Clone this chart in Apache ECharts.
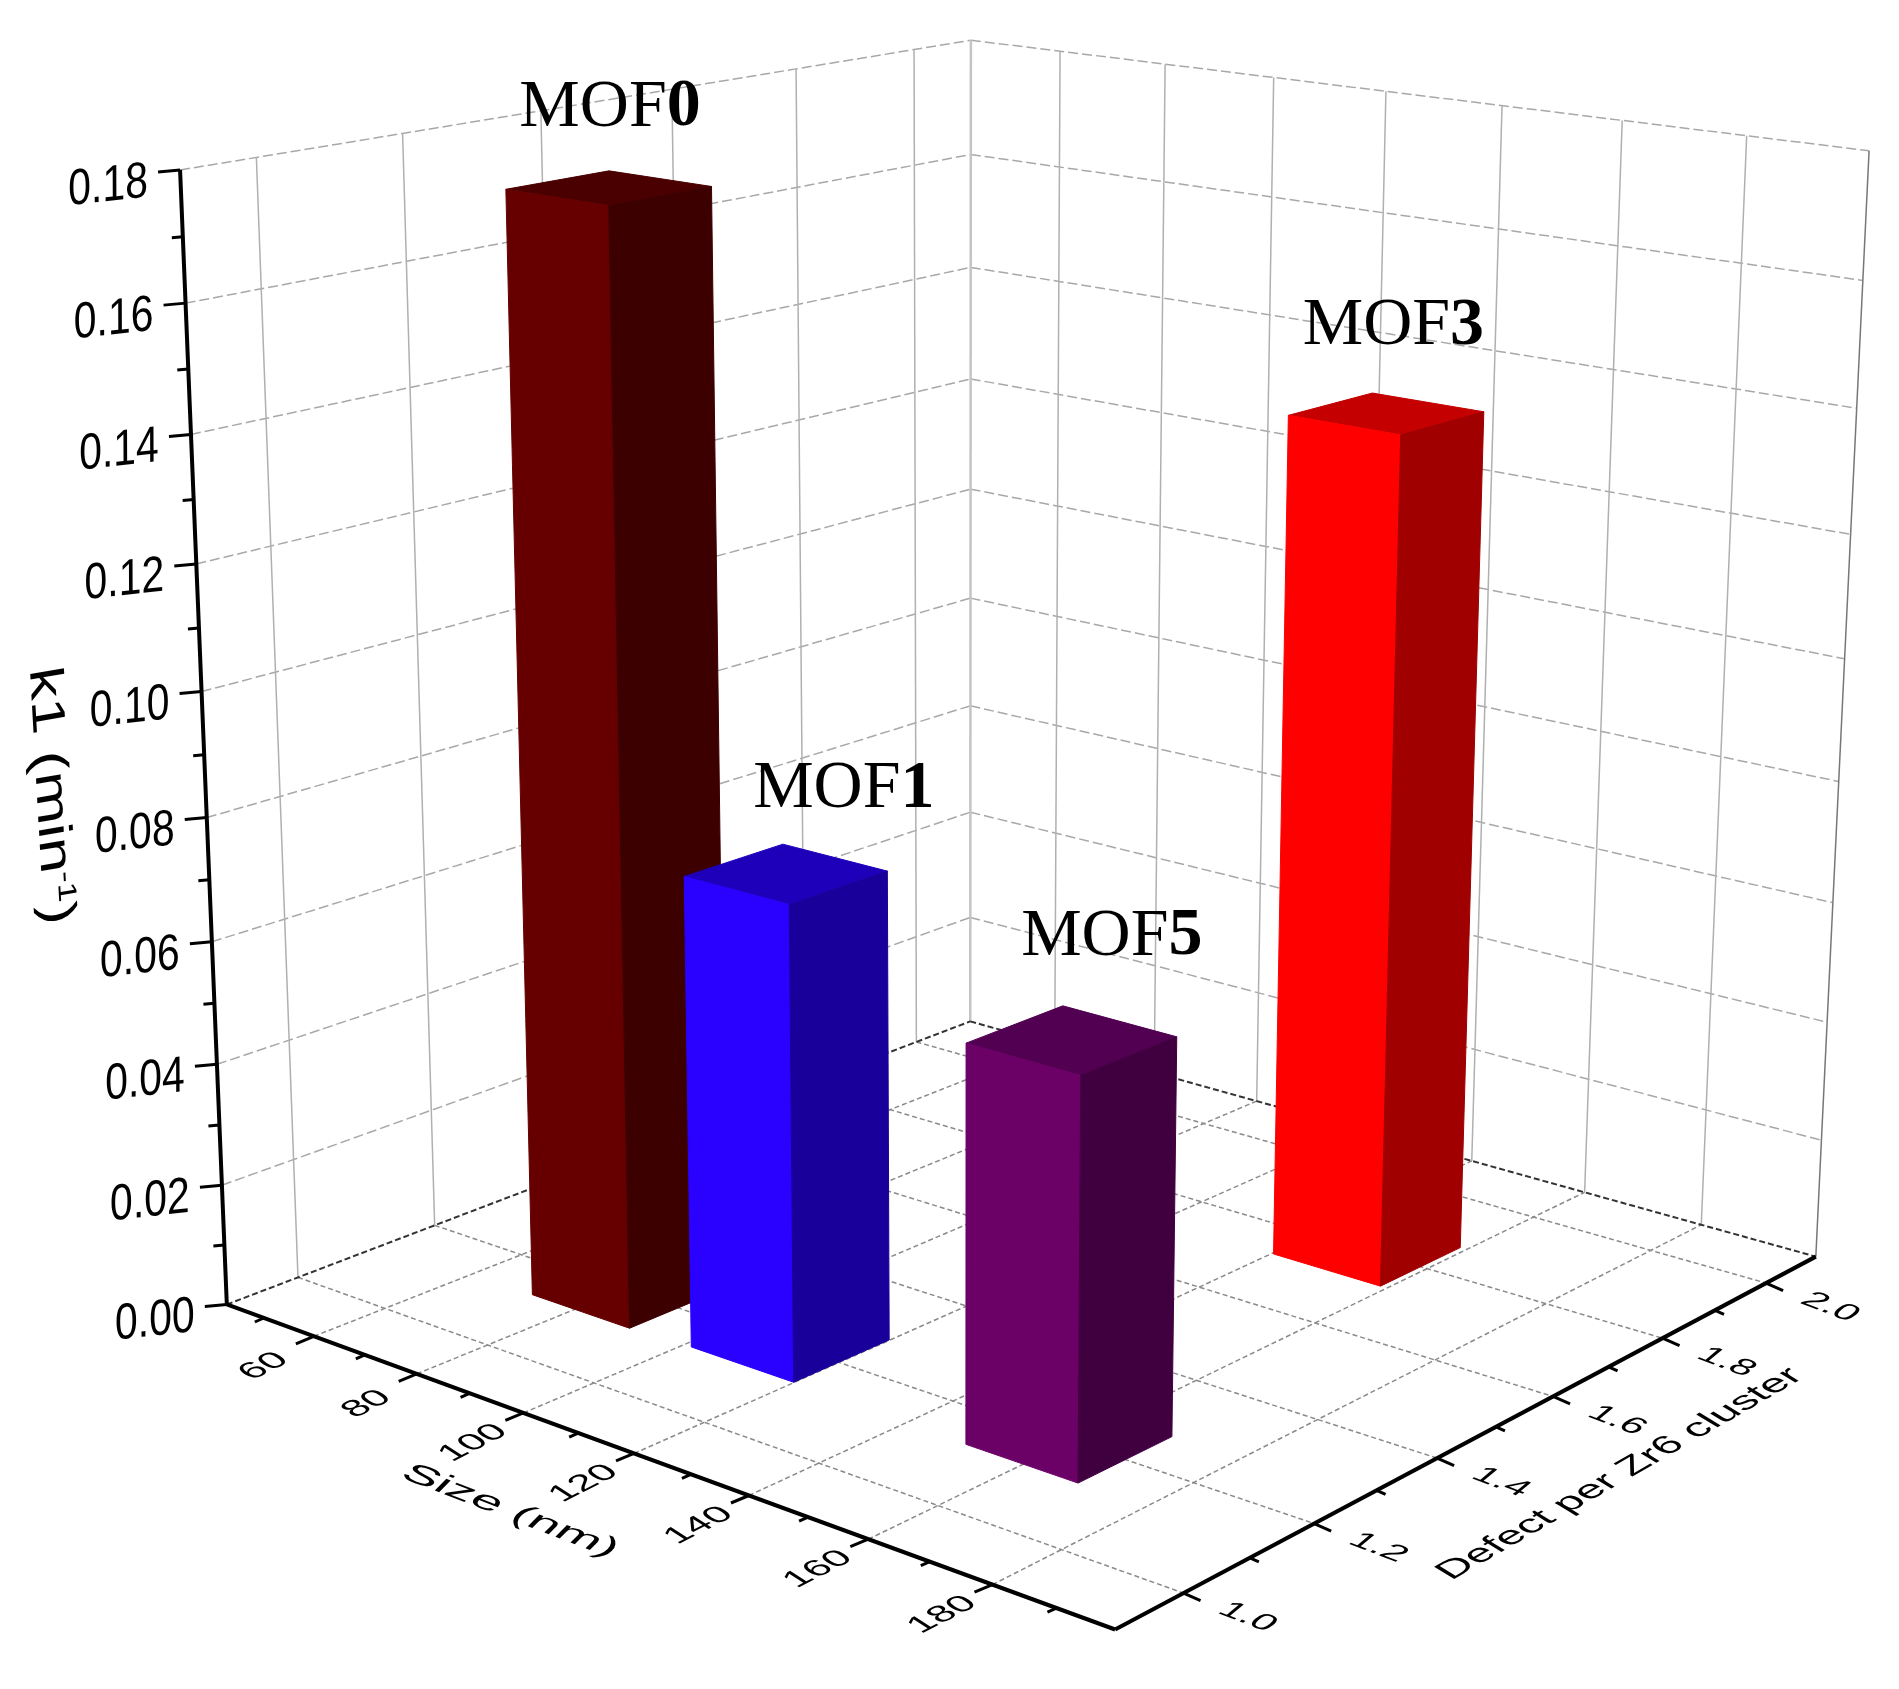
<!DOCTYPE html>
<html>
<head>
<meta charset="utf-8">
<title>k1 bars</title>
<style>html,body{margin:0;background:#fff}#c{width:1899px;height:1689px}</style>
<script src="https://cdn.jsdelivr.net/npm/echarts@6/dist/echarts.min.js"></script>
</head>
<body>
<div id="c"></div>
<script>
var sizeTicks = [60, 80, 100, 120, 140, 160, 180];
var sizeMinor = [50, 70, 90, 110, 130, 150, 170, 190];
var defectTicks = [1.0, 1.2, 1.4, 1.6, 1.8, 2.0];
var defectMinor = [1.1, 1.3, 1.5, 1.7, 1.9];
var kTicks = [0, 0.02, 0.04, 0.06, 0.08, 0.10, 0.12, 0.14, 0.16, 0.18];
var kMinor = [0.01, 0.03, 0.05, 0.07, 0.09, 0.11, 0.13, 0.15, 0.17];
var barNames = ['0', '1', '3', '5'];
var barSize = [81.1, 110.6, 149.6, 159.7];
var barDefect = [1.2, 1.205, 1.8, 1.2];
var barK = [0.1765, 0.076, 0.1385, 0.0625];

var sizeRange = [42.5, 199], defectRange = [0.9, 2.1], kRange = [0, 0.18];
// box corners in the page, used to fit the camera
var cam = [
  [0,0,0,227,1304],[1,0,0,1115,1630],[1,1,0,1816,1256],[0,1,0,970,1022],
  [0,0,1,180,170],[0,1,1,971,40],[1,1,1,1869,151]
];
function solve(A, b) {
  var n = b.length, M = A.map(function (r, i) { return r.concat(b[i]); });
  for (var c = 0; c < n; c++) {
    var p = c;
    for (var r = c + 1; r < n; r++) if (Math.abs(M[r][c]) > Math.abs(M[p][c])) p = r;
    var t = M[c]; M[c] = M[p]; M[p] = t;
    for (r = 0; r < n; r++) {
      if (r === c) continue;
      var f = M[r][c] / M[c][c];
      for (var k = c; k <= n; k++) M[r][k] -= f * M[c][k];
    }
  }
  return M.map(function (r, i) { return r[n] / r[i]; });
}
function fitCamera(pts) {
  var rows = [], rhs = [];
  pts.forEach(function (q) {
    var X = q[0], Y = q[1], Z = q[2], x = q[3] / 1000, y = q[4] / 1000;
    rows.push([X, Y, Z, 1, 0, 0, 0, 0, -x * X, -x * Y, -x * Z]); rhs.push(x);
    rows.push([0, 0, 0, 0, X, Y, Z, 1, -y * X, -y * Y, -y * Z]); rhs.push(y);
  });
  var N = [], v = [];
  for (var i = 0; i < 11; i++) {
    N.push([]); v.push(0);
    for (var j = 0; j < 11; j++) {
      var s = 0;
      rows.forEach(function (r) { s += r[i] * r[j]; });
      N[i].push(s);
    }
    rows.forEach(function (r, n) { v[i] += r[i] * rhs[n]; });
  }
  return solve(N, v);
}
var P = fitCamera(cam);
var lm = echarts.number.linearMap;
function project(size, defect, k) {
  var u = lm(size, sizeRange, [0, 1]), v = lm(defect, defectRange, [0, 1]), w = lm(k, kRange, [0, 1]);
  var d = P[8] * u + P[9] * v + P[10] * w + 1;
  return [1000 * (P[0] * u + P[1] * v + P[2] * w + P[3]) / d, 1000 * (P[4] * u + P[5] * v + P[6] * w + P[7]) / d];
}

// turn the two glyph directions into rotation + scale + skew
function glyph(e1, e2) {
  var sx = Math.sqrt(e1[0] * e1[0] + e1[1] * e1[1]);
  var ux = e1[0] / sx, uy = e1[1] / sx;
  var p = e2[0] * ux + e2[1] * uy, q = e2[0] * -uy + e2[1] * ux;
  return { rotation: Math.atan2(-e1[1], e1[0]), scaleX: sx, scaleY: q, skewX: Math.atan(p / sx) };
}
function label(text, x, y, font, size, t, extra) {
  var st = { text: text, fontFamily: font, fontSize: size, fill: '#000', align: 'center', verticalAlign: 'middle' };
  if (extra) st.rich = extra;
  return { type: 'text', x: x, y: y, rotation: t.rotation, scaleX: t.scaleX, scaleY: t.scaleY, skewX: t.skewX, style: st, silent: true };
}
function seg(a, b, stroke, w, dash) {
  return { type: 'line', shape: { x1: a[0], y1: a[1], x2: b[0], y2: b[1] }, style: { stroke: stroke, lineWidth: w, lineDash: dash || null }, silent: true };
}
var s0 = sizeRange[0], s1 = sizeRange[1], d0 = defectRange[0], d1 = defectRange[1], k0 = kRange[0], k1 = kRange[1];

function renderGrid() {
  var c = [];
  kTicks.forEach(function (k) {
    if (k === 0) return;
    c.push(seg(project(s0, d0, k), project(s0, d1, k), '#a8a8a8', 1.5, [10, 4]));
    c.push(seg(project(s0, d1, k), project(s1, d1, k), '#a8a8a8', 1.5, [10, 4]));
  });
  defectTicks.forEach(function (d) {
    c.push(seg(project(s0, d, k0), project(s0, d, k1), '#b0b0b0', 1.5));
    c.push(seg(project(s0, d, k0), project(s1, d, k0), '#8a8a8a', 1.5, [5, 3]));
  });
  sizeTicks.forEach(function (s) {
    c.push(seg(project(s, d1, k0), project(s, d1, k1), '#b0b0b0', 1.5));
    c.push(seg(project(s, d0, k0), project(s, d1, k0), '#8a8a8a', 1.5, [5, 3]));
  });
  c.push(seg(project(s0, d1, k0), project(s0, d1, k1), '#c4c4c4', 2.5));
  c.push(seg(project(s1, d1, k0), project(s1, d1, k1), '#777777', 1.5));
  c.push(seg(project(s0, d0, k0), project(s0, d1, k0), '#333333', 2, [6, 3]));
  c.push(seg(project(s0, d1, k0), project(s1, d1, k0), '#333333', 2, [6, 3]));
  return { type: 'group', children: c };
}
function add(a, x, y) { return [a[0] + x, a[1] + y]; }
function renderAxes() {
  var c = [];
  c.push(seg(project(s0, d0, k0), project(s0, d0, k1), '#000', 4));
  c.push(seg(project(s0, d0, k0), project(s1, d0, k0), '#000', 4));
  c.push(seg(project(s1, d0, k0), project(s1, d1, k0), '#000', 4));
  var kT = glyph([1.05, -0.115], [0.03, 1.3]);
  kTicks.forEach(function (k) {
    var a = project(s0, d0, k);
    c.push(seg(a, add(a, -22, 2), '#000', 3));
    c.push(label(k.toFixed(2), a[0] - 72, a[1] + 17, 'Liberation Sans', 39, kT));
  });
  kMinor.forEach(function (k) {
    var a = project(s0, d0, k);
    c.push(seg(a, add(a, -11, 1), '#000', 3));
  });
  var sT = glyph([0.87, -0.44], [0.82, 0.345]);
  sizeTicks.forEach(function (s) {
    var a = project(s, d0, k0);
    c.push(seg(a, add(a, -18, 7.5), '#000', 3));
    c.push(label(String(s), a[0] - 50, a[1] + 30, 'Liberation Sans', 40, sT));
  });
  sizeMinor.forEach(function (s) {
    var a = project(s, d0, k0);
    c.push(seg(a, add(a, -9, 4), '#000', 3));
  });
  var dT = glyph([1.02, 0.39], [-0.82, 0.44]);
  defectTicks.forEach(function (d) {
    var a = project(s1, d, k0);
    c.push(seg(a, add(a, 17, 7.5), '#000', 3));
    c.push(label(d.toFixed(1), a[0] + 64, a[1] + 24, 'Liberation Sans', 36, dT));
  });
  defectMinor.forEach(function (d) {
    var a = project(s1, d, k0);
    c.push(seg(a, add(a, 9, 4), '#000', 3));
  });
  c.push(label('Size (nm)', 510, 1511, 'Liberation Sans', 44, glyph([1.12, 0.43], [-0.72, 0.42])));
  c.push(label('Defect per Zr6 cluster', 1620, 1474, 'Liberation Sans', 40, glyph([0.92, -0.53], [0.88, 0.36])));
  c.push(label('{a|k1 (min}{b|-1}{a|)}', 50, 796, 'Liberation Sans', 58, glyph([0.06, 1.08], [-0.8, 0.17]), {
    a: { fontFamily: 'Liberation Sans', fontSize: 58, fill: '#000' },
    b: { fontFamily: 'Liberation Sans', fontSize: 32, fill: '#000', verticalAlign: 'top', padding: [0, 0, 20, 0] }
  }));
  return { type: 'group', children: c };
}
var faceFront = ['#660000', '#2a00ff', '#ff0000', '#6b0066'];
var faceSide = ['#3d0000', '#1a009a', '#a00000', '#400040'];
var faceTop = ['#4a0000', '#1e00bb', '#c40000', '#520052'];
var halfS = 9.3, halfD = 0.073;
var labelNudge = [[1, -63], [61, -55], [21, -67], [49, -69]];
function renderBar(params) {
  var i = params.dataIndex, s = barSize[i], d = barDefect[i], k = barK[i];
  var a = s - halfS, b = s + halfS, e = d - halfD, g = d + halfD;
  function poly(pts, col) {
    return { type: 'polygon', shape: { points: pts }, style: { fill: col, stroke: col, lineWidth: 1 }, silent: true };
  }
  return { type: 'group', children: [
    poly([project(a, e, k), project(b, e, k), project(b, g, k), project(a, g, k)], faceTop[i]),
    poly([project(a, e, 0), project(b, e, 0), project(b, e, k), project(a, e, k)], faceFront[i]),
    poly([project(b, e, 0), project(b, g, 0), project(b, g, k), project(b, e, k)], faceSide[i])
  ] };
}
function renderName(params) {
  var i = params.dataIndex;
  var top = project(barSize[i] - halfS, barDefect[i] + halfD, barK[i]);
  return label('{t|MOF}{n|' + barNames[i] + '}', top[0] + labelNudge[i][0], top[1] + labelNudge[i][1], 'Liberation Serif', 68, glyph([1, 0], [0, 1]), {
    t: { fontFamily: 'Liberation Serif', fontSize: 68, fill: '#000' },
    n: { fontFamily: 'Liberation Serif', fontSize: 68, fontWeight: 'bold', fill: '#000' }
  });
}
var chart = echarts.init(document.getElementById('c'), null, { renderer: 'canvas' });
chart.setOption({
  backgroundColor: '#fff',
  animation: false,
  series: [
    { type: 'custom', coordinateSystem: 'none', data: [0], renderItem: renderGrid, z: 1 },
    { type: 'custom', coordinateSystem: 'none', data: [0], renderItem: renderAxes, z: 2 },
    { type: 'custom', coordinateSystem: 'none', data: barK, renderItem: renderBar, z: 3 },
    { type: 'custom', coordinateSystem: 'none', data: barK, renderItem: renderName, z: 4 }
  ]
});
</script>
</body>
</html>
